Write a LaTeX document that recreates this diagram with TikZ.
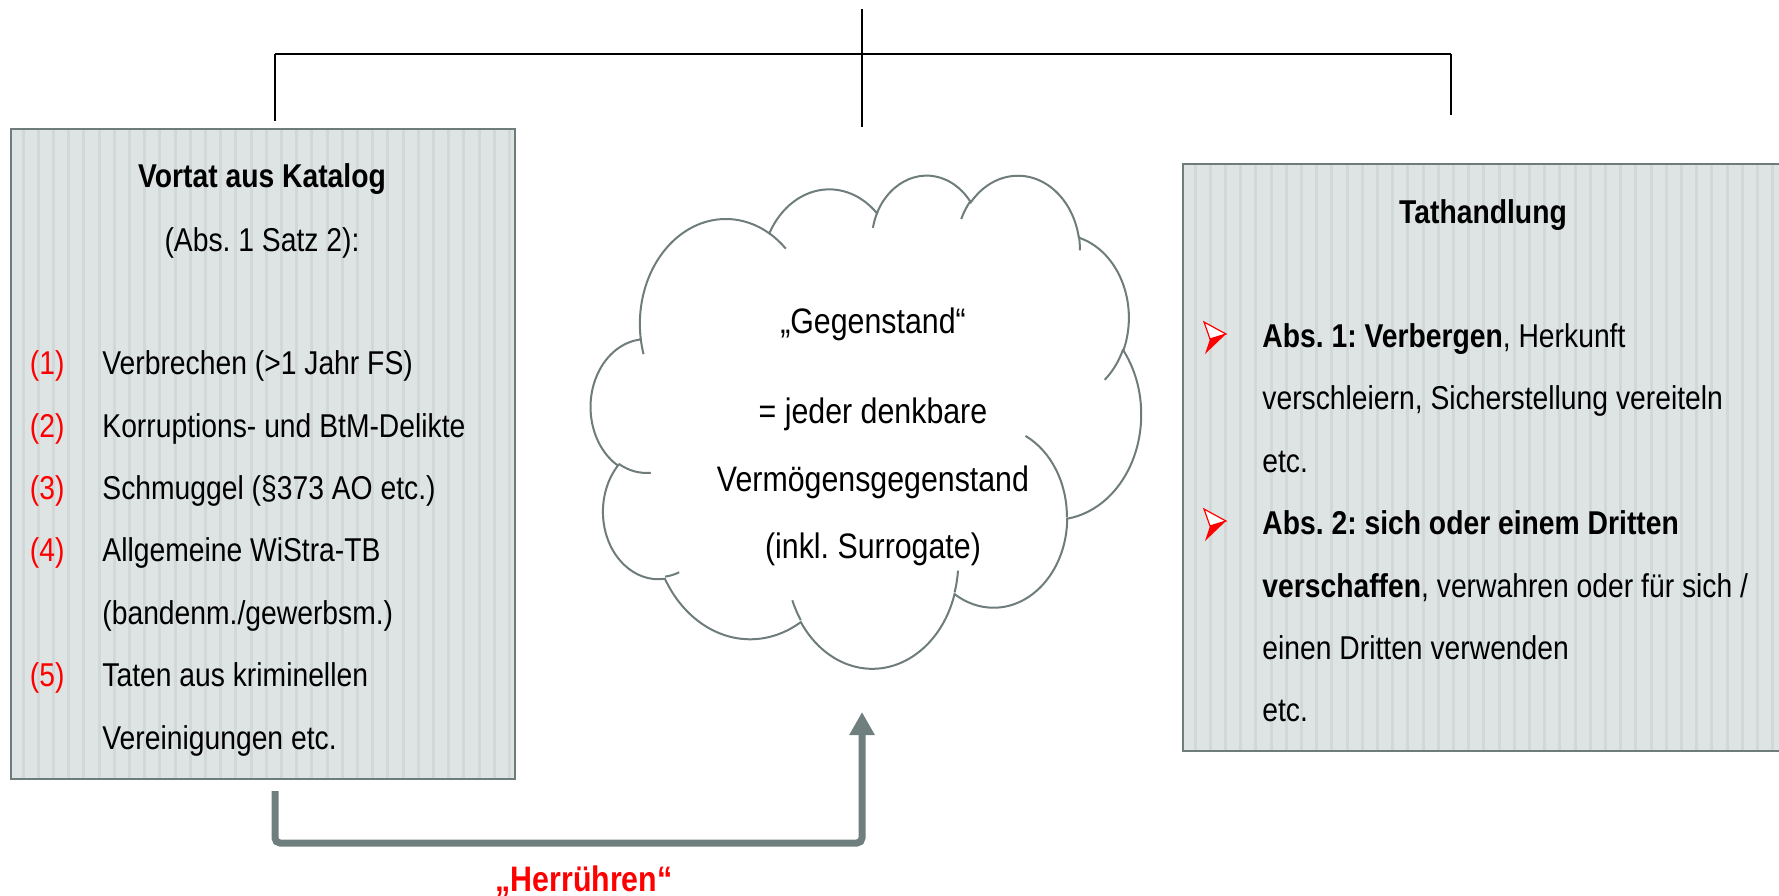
\documentclass[tikz,border=0pt]{standalone}
\usepackage{fontspec}
\setmainfont{Liberation Sans}[FakeStretch=0.857]
\usetikzlibrary{arrows.meta}
\frenchspacing
\definecolor{panelfill}{RGB}{222,228,227}
\definecolor{panelstripe}{RGB}{209,216,215}
\definecolor{panelborder}{RGB}{110,124,123}
\definecolor{flowgray}{RGB}{111,127,126}
\definecolor{accentred}{RGB}{255,0,0}
\newcommand\fs{\fontsize{16.5}{19}\selectfont}
\newcommand\fb{\fontsize{17.7}{21}\selectfont}
% arc helper: DrawingML visual angles -> ellipse parameter angles
\newcommand\mkarc[5]{%
  \pgfmathsetmacro\cloudS{atan2((#2)*sin(#4),(#3)*cos(#4))}%
  \pgfmathsetmacro\cloudR{atan2((#2)*sin((#4)+(#5)),(#3)*cos((#4)+(#5)))}%
  \pgfmathsetmacro\cloudE{\cloudS+mod(\cloudR-\cloudS+720,360)}%
  \edef\cloudtmp{\noexpand\tikzset{#1/.style={start angle=\cloudS,end angle=\cloudE,x radius=#2,y radius=#3}}}%
  \cloudtmp}
\mkarc{cloudA}{67.53}{91.90}{-190.4875}{123.7805}
\mkarc{cloudB}{53.33}{72.67}{-144.1024}{89.9452}
\mkarc{cloudC}{43.65}{59.45}{-145.8079}{99.7230}
\mkarc{cloudD}{48.57}{65.95}{-130.9861}{117.2417}
\mkarc{cloudE}{53.33}{72.73}{-78.7089}{109.0269}
\mkarc{cloudF}{67.75}{92.20}{-46.2673}{130.2690}
\mkarc{cloudG}{57.85}{78.67}{0.6250}{114.0333}
\mkarc{cloudH}{67.52}{92.15}{22.4516}{115.1726}
\mkarc{cloudI}{77.20}{105.43}{66.2426}{75.7110}
\mkarc{cloudJ}{43.60}{59.18}{-274.9421}{146.7356}
\mkarc{cloudK}{43.45}{59.45}{-246.8285}{152.5189}
\mkarc{hookA}{43.45}{59.45}{86.7420}{26.4295}
\mkarc{hookB}{43.60}{59.18}{73.6105}{11.4475}
\mkarc{hookC}{67.52}{92.15}{137.6242}{14.0811}
\mkarc{hookD}{67.52}{92.15}{6.4533}{15.9984}
\mkarc{hookE}{57.85}{78.67}{-70.2924}{70.9174}
\mkarc{hookF}{53.33}{72.73}{30.3180}{27.7515}
\mkarc{hookG}{48.57}{65.95}{-13.7443}{14.8589}
\mkarc{hookH}{48.57}{65.95}{-149.1815}{18.1954}
\mkarc{hookI}{43.65}{59.45}{-163.4943}{17.6864}
\mkarc{hookJ}{67.53}{91.90}{-66.7070}{12.3194}
\mkarc{hookK}{67.53}{91.90}{157.6544}{11.8582}
\tikzset{
  treeline/.style={draw=black, line width=0.8pt},
  barline/.style={draw=black, line width=1.2pt},
  panel/.style={draw=panelborder, line width=1pt, fill=panelfill, inner sep=0pt, anchor=north west,
    path picture={\foreach \k in {0,...,42}{\draw[panelstripe, line width=1.5pt]
      ([xshift=6pt+\k*7.6pt]path picture bounding box.south west) --
      ([xshift=6pt+\k*7.6pt]path picture bounding box.north west);}}},
  cloudline/.style={draw=panelborder, line width=1pt},
  flow/.style={draw=flowgray, line width=3.5pt, rounded corners=2.5pt,
    -{Triangle[width=12pt,length=11.5pt]}},
  txt/.style={font=\fs, inner sep=0pt, text=black},
  item/.style={txt, anchor=base west},
  num/.style={txt, anchor=base west, text=accentred},
  ctxt/.style={font=\fb, inner sep=0pt, anchor=base},
  arrowbullet/.pic={
    \draw[accentred, line width=0.6pt, line join=miter, fill=white] (-6,-16) -- (16,-4) -- (0,1) -- cycle;
    \fill[accentred] (0,1) -- (16,-4) -- (-5,16) -- cycle;},
}
\begin{document}
\begin{tikzpicture}[x=0.5pt,y=-0.5pt]
\useasboundingbox (0,0) rectangle (1779,895);
% tree lines
\coordinate (treeTop) at (862,9);
\coordinate (treeBot) at (862,127);
\coordinate (barL) at (275,54);
\coordinate (barR) at (1451,54);
\coordinate (dropL) at (275,121);
\coordinate (dropR) at (1451,115);
\draw[treeline] (treeTop) -- (treeBot);
\draw[barline] (barL) -- (barR);
\draw[treeline] (barL) -- (dropL);
\draw[treeline] (barR) -- (dropR);
% panels
\node[panel, minimum width=252pt, minimum height=325pt] (vortat) at (10,128) {};
\node[panel, minimum width=304pt, minimum height=293.5pt] (tat) at (1182,163) {};
% cloud
\begin{scope}[shift={(591,174)},xscale=1.27315,yscale=1.14120]
\draw[cloudline, fill=white] (39.00,143.70) arc[cloudA] arc[cloudB] arc[cloudC] arc[cloudD]
  arc[cloudE] arc[cloudF] arc[cloudG] arc[cloudH] arc[cloudI] arc[cloudJ] arc[cloudK] -- cycle;
\draw[cloudline] (46.93,261.77) arc[hookA] (69.28,348.99) arc[hookB]
  (164.78,390.90) arc[hookC] (288.27,347.51) arc[hookD] (341.29,229.54) arc[hookE]
  (417.98,153.54) arc[hookF] (383.24,54.26) arc[hookG] (290.78,39.52) arc[hookH]
  (221.41,47.20) arc[hookI] (140.00,51.92) arc[hookJ] (41.27,157.89) arc[hookK];
\end{scope}
% flow arrow
\coordinate (flowStart) at (275,791);
\coordinate (flowA) at (275,843);
\coordinate (flowB) at (862,843);
\coordinate (flowEnd) at (862,712);
\draw[flow] (flowStart) -- (flowA) -- (flowB) -- (flowEnd);
% left panel text
\node[txt, anchor=base, font=\fs\bfseries] (vTitle) at (262,187.5) {Vortat aus Katalog};
\node[txt, anchor=base] (vSub) at (262,251) {(Abs. 1 Satz 2):};
\node[num] (n1) at (29.5,374.5) {(1)};
\node[num] (n2) at (29.5,437) {(2)};
\node[num] (n3) at (29.5,499.5) {(3)};
\node[num] (n4) at (29.5,561.5) {(4)};
\node[num] (n5) at (29.5,686.5) {(5)};
\node[item] (i1) at (102,374.5) {Verbrechen (>1 Jahr FS)};
\node[item] (i2) at (102,437) {Korruptions- und BtM-Delikte};
\node[item] (i3) at (102,499.5) {Schmuggel (§373 AO etc.)};
\node[item] (i4) at (102,561.5) {Allgemeine WiStra-TB};
\node[item] (i4b) at (102,624) {(bandenm./gewerbsm.)};
\node[item] (i5) at (102,686.5) {Taten aus kriminellen};
\node[item] (i5b) at (102,749) {Vereinigungen etc.};
% cloud text
\node[ctxt] (c1) at (873,333.5) {„Gegenstand“};
\node[ctxt] (c2) at (873,423.5) {= jeder denkbare};
\node[ctxt] (c3) at (873,491.5) {Vermögensgegenstand};
\node[ctxt] (c4) at (873,558.5) {(inkl. Surrogate)};
% right panel text
\node[txt, anchor=base, font=\fs\bfseries] (tTitle) at (1483,223) {Tathandlung};
\pic (b1) at (1210,338) {arrowbullet};
\pic (b2) at (1210,525) {arrowbullet};
\node[item] (r1) at (1262,347.5) {\textbf{Abs. 1: Verbergen}, Herkunft};
\node[item] (r2) at (1262,409.5) {verschleiern, Sicherstellung vereiteln};
\node[item] (r3) at (1262,472) {etc.};
\node[item] (r4) at (1262,534.5) {\textbf{Abs. 2: sich oder einem Dritten}};
\node[item] (r5) at (1262,597) {\textbf{verschaffen}, verwahren oder für sich /};
\node[item] (r6) at (1262,659.5) {einen Dritten verwenden};
\node[item] (r7) at (1262,721.5) {etc.};
% label
\node[font=\fb\bfseries, text=accentred, inner sep=0pt, anchor=base] (herr) at (584,891) {„Herrühren“};
\end{tikzpicture}
\end{document}
